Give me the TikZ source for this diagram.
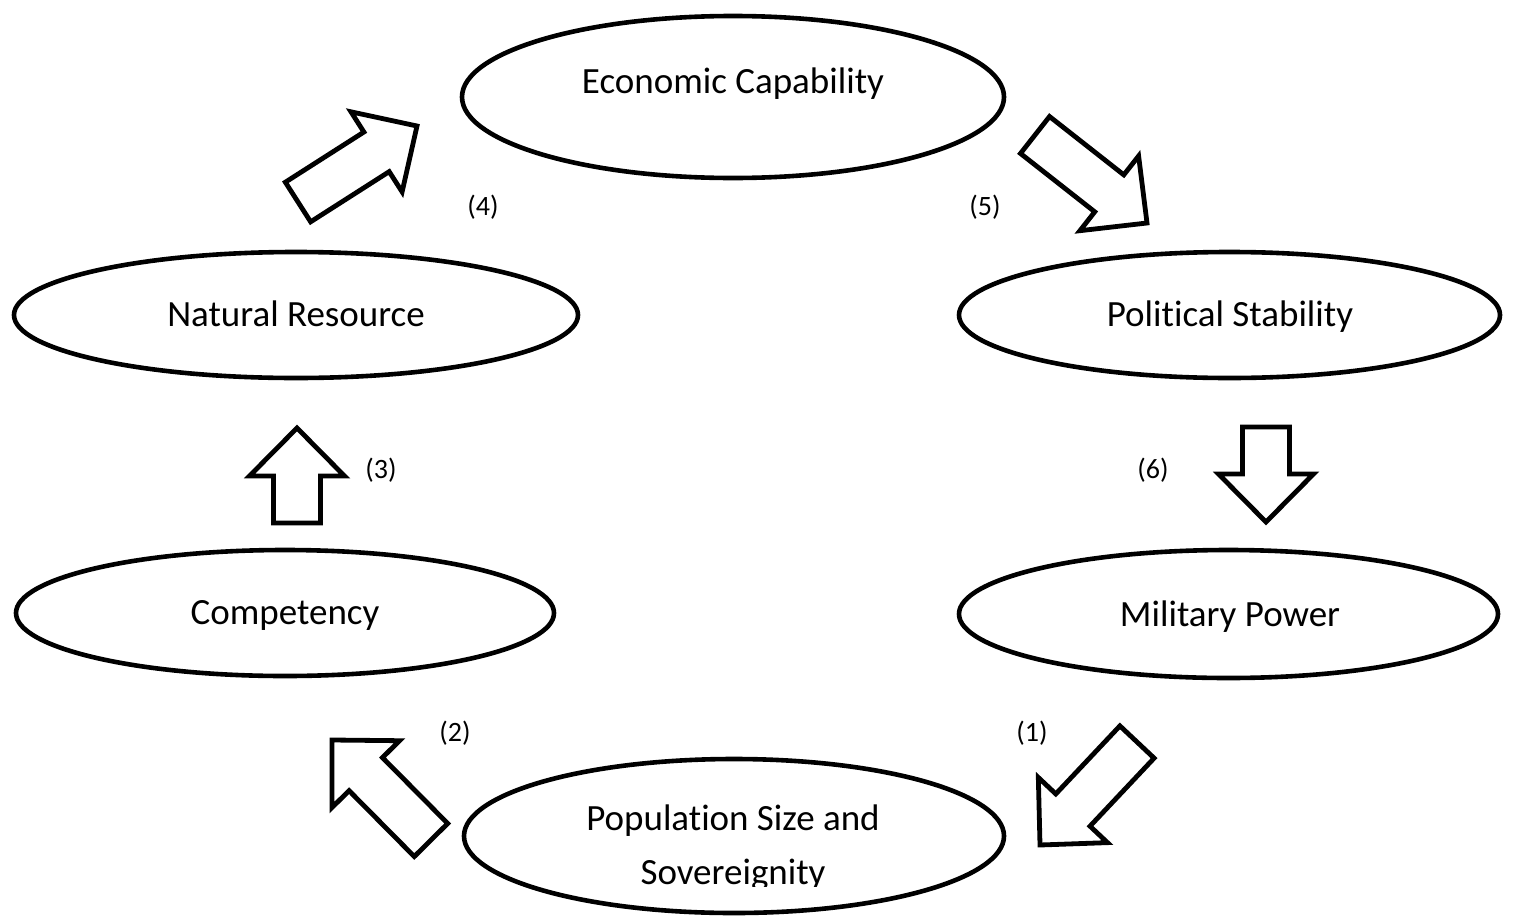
\documentclass[tikz,border=0pt]{standalone}
\usepackage{fontspec}
\setmainfont[Ligatures=NoCommon]{Carlito}
\usetikzlibrary{shapes.geometric,calc}
\tikzset{
  oval/.style={ellipse,draw,line width=4.6pt,inner sep=0pt,outer sep=0pt},
  ovaltext/.style={anchor=base,font=\fontsize{37}{44}\selectfont,inner sep=0pt},
  steplabel/.style={font=\fontsize{28}{34}\selectfont,inner sep=0pt},
  blockarrow/.style={draw,line width=4.8pt,line join=miter,fill=white},
}
% Block arrow from a tail coordinate #1 to a tip coordinate #2
\newcommand\flowarrow[2]{%
  \coordinate (#1n) at ($(#2)!48pt!(#1)$);
  \draw[blockarrow]
    ($(#1)!23.5pt!90:(#2)$) -- ($(#1n)!23.5pt!90:(#2)$) -- ($(#1n)!47.5pt!90:(#2)$)
    -- (#2) -- ($(#1n)!47.5pt!-90:(#2)$) -- ($(#1n)!23.5pt!-90:(#2)$)
    -- ($(#1)!23.5pt!-90:(#2)$) -- cycle;
}
\begin{document}
\begin{tikzpicture}[x=1pt,y=-1pt]
\useasboundingbox (0,0) rectangle (1514,918);

% the six factors
\node[oval,minimum width=542pt,minimum height=162pt] (econ) at (733,97) {};
\node[oval,minimum width=564pt,minimum height=126pt] (nat)  at (296,315) {};
\node[oval,minimum width=541pt,minimum height=126pt] (pol)  at (1229.5,315) {};
\node[oval,minimum width=538pt,minimum height=126pt] (comp) at (285,613) {};
\node[oval,minimum width=539pt,minimum height=128pt] (mil)  at (1228.5,614) {};
\node[oval,minimum width=540pt,minimum height=154pt] (pop)  at (734,836) {};

\node[ovaltext] (econt) at (733,93) {Economic Capability};
\node[ovaltext] (natt)  at (296,326) {Natural Resource};
\node[ovaltext] (polt)  at (1230,326) {Political Stability};
\node[ovaltext] (compt) at (285,624) {Competency};
\node[ovaltext] (milt)  at (1230,626) {Military Power};
\node[ovaltext] (popt1) at (733,830) {Population Size and};
\begin{scope}
  \clip (462,700) rectangle (1006,886);
  \node[ovaltext] (popt2) at (733,884) {Sovereignity};
\end{scope}

% arrow ends
\coordinate (a1t) at (1137,742); \coordinate (a1h) at (1040,845);
\coordinate (a2t) at (431,840);  \coordinate (a2h) at (332,740);
\coordinate (a3t) at (297,523);  \coordinate (a3h) at (297,428);
\coordinate (a4t) at (298,202);  \coordinate (a4h) at (417,126);
\coordinate (a5t) at (1035,135); \coordinate (a5h) at (1147,223);
\coordinate (a6t) at (1266,427); \coordinate (a6h) at (1266,522);

\flowarrow{a1t}{a1h}
\flowarrow{a2t}{a2h}
\flowarrow{a3t}{a3h}
\flowarrow{a4t}{a4h}
\flowarrow{a5t}{a5h}
\flowarrow{a6t}{a6h}

% step numbers
\node[steplabel] (l1) at (1032,733) {(1)};
\node[steplabel] (l2) at (455,733)  {(2)};
\node[steplabel] (l3) at (381,470)  {(3)};
\node[steplabel] (l4) at (483,207)  {(4)};
\node[steplabel] (l5) at (985,207)  {(5)};
\node[steplabel] (l6) at (1153,470) {(6)};
\end{tikzpicture}
\end{document}
